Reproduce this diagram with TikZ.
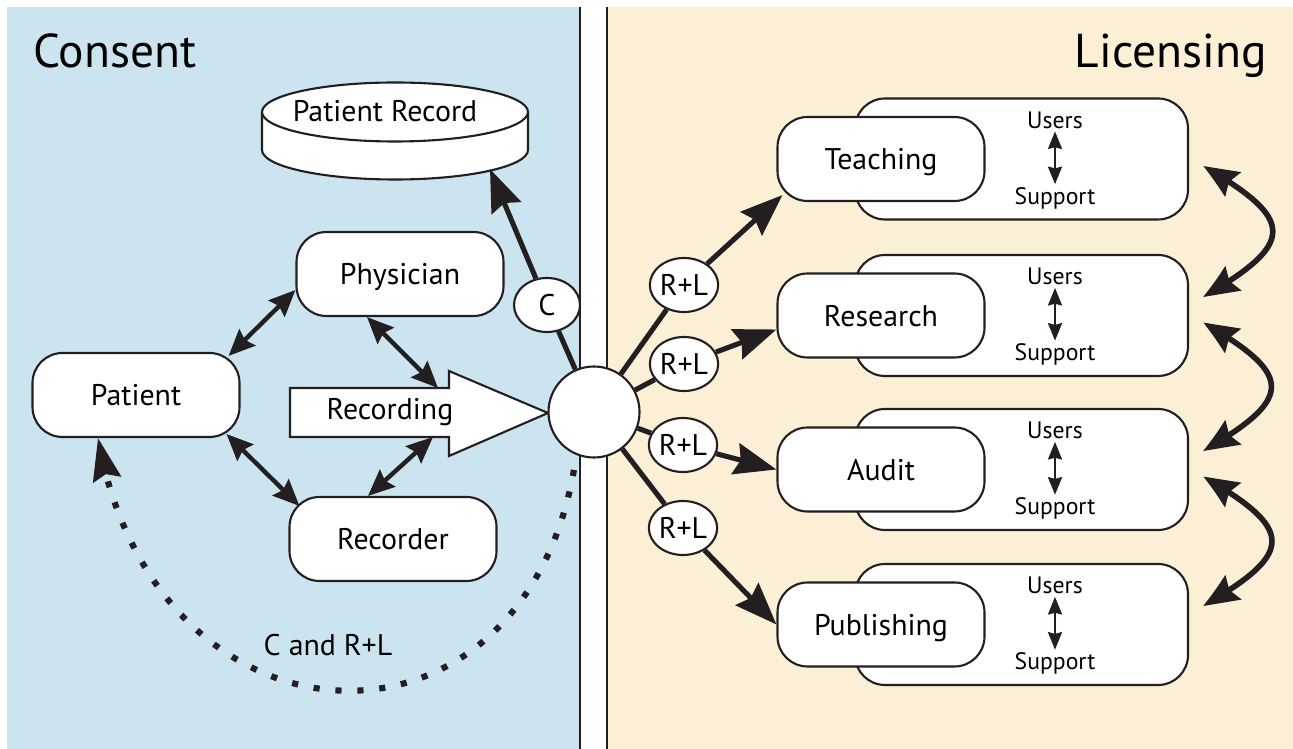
\documentclass[tikz,border=0pt]{standalone}
\usepackage{fontspec}
\setmainfont{PT Sans}
\usetikzlibrary{arrows.meta,bending,shapes.geometric}
\definecolor{consentbg}{RGB}{204,228,240}
\definecolor{licensebg}{RGB}{251,240,214}
\definecolor{ink}{RGB}{35,31,32}
\tikzset{
  box/.style={draw=ink, fill=white, line width=1.2pt, rounded corners=0.6cm,
    minimum width=4.14cm, minimum height=1.68cm, text height=12.5pt, text depth=0pt,
    font=\fontsize{17}{20}\selectfont},
  stack/.style={draw=ink, fill=white, line width=1.2pt, rounded corners=0.6cm,
    minimum width=6.66cm, minimum height=2.42cm},
  tag/.style={ellipse, draw=ink, fill=white, line width=1.2pt, inner sep=0pt,
    minimum width=1.32cm, minimum height=1.08cm, font=\fontsize{17}{20}\selectfont},
  role/.style={font=\fontsize{13.5}{15}\selectfont, inner sep=1.5pt},
  head/.style={font=\fontsize{27}{30}\selectfont, inner sep=0pt},
  link/.style={draw=ink, line width=2.9pt, -{Stealth[length=24pt,width=18pt,inset=3pt]}},
  twoway/.style={draw=ink, line width=2.5pt,
    {Stealth[length=15pt,width=13pt,inset=2pt]}-{Stealth[length=15pt,width=13pt,inset=2pt]}},
  mutual/.style={draw=ink, line width=1.2pt,
    {Stealth[length=10pt,width=8pt,inset=1pt]}-{Stealth[length=10pt,width=8pt,inset=1pt]}},
  between/.style={draw=ink, line width=3.2pt,
    {Stealth[length=21pt,width=16pt,inset=3pt,bend]}-{Stealth[length=21pt,width=16pt,inset=3pt,bend]}},
  dotarc/.style={draw=ink, line width=3.5pt, dash pattern=on 3.5pt off 9pt,
    -{Stealth[length=24pt,width=16pt,inset=3pt]}},
}
\begin{document}
\begin{tikzpicture}
  \useasboundingbox (0,0) rectangle (25.86,14.98);
  % panels
  \fill[consentbg] (0.14,0) rectangle (11.6,14.84);
  \fill[licensebg] (12.14,0) rectangle (25.86,14.84);
  \draw[ink, line width=1.1pt] (11.6,0) -- (11.6,14.84);
  \draw[ink, line width=1.1pt] (12.14,0) -- (12.14,14.84);
  \node[head, anchor=base west] (consent) at (0.66,13.62) {Consent};
  \node[head, anchor=base east] (licensing) at (25.34,13.62) {Licensing};

  % consent side
  \draw[ink, fill=white, line width=1.2pt] (5.24,12.74) -- (5.24,11.98)
    arc[start angle=180, end angle=360, x radius=2.66cm, y radius=0.59cm] -- (10.56,12.74);
  \draw[ink, fill=white, line width=1.2pt] (7.9,12.74) ellipse [x radius=2.66cm, y radius=0.59cm];
  \node[font=\fontsize{17}{20}\selectfont] (record) at (7.7,12.76) {Patient Record};
  \coordinate (recin) at (9.8,11.6);

  \node[box] (patient) at (2.72,7.08) {Patient};
  \node[box] (physician) at (8.0,9.5) {Physician};
  \node[box] (recorder) at (7.86,4.2) {Recorder};

  \draw[ink, fill=white, line width=1.2pt] (5.8,7.22) -- (8.98,7.22) -- (8.98,7.56) -- (10.96,6.72)
    -- (8.98,5.86) -- (8.98,6.24) -- (5.8,6.24) -- cycle;
  \node[font=\fontsize{17}{20}\selectfont] (recording) at (7.8,6.74) {Recording};
  \coordinate (rectop) at (8.76,7.22);
  \coordinate (recbot) at (8.66,6.24);

  \node[circle, draw=ink, fill=white, line width=1.2pt, minimum size=1.82cm] (hub) at (11.88,6.74) {};
  \node[tag] (c) at (10.94,8.88) {C};

  \draw[twoway] ([xshift=-0.24cm,yshift=-0.08cm]patient.north east) -- ([yshift=-0.32cm]physician.west);
  \draw[twoway] ([xshift=-0.66cm]physician.south) -- (rectop);
  \draw[twoway] ([xshift=-0.28cm,yshift=0.08cm]patient.south east) -- ([xshift=0.22cm,yshift=-0.2cm]recorder.north west);
  \draw[twoway] (recbot) -- ([xshift=-0.5cm]recorder.north);

  \draw[link] (hub) -- (c) -- (recin);
  \draw[dotarc, shorten <=0.3cm] (hub.-112) to[out=-100, in=-80, looseness=1.75] ([xshift=-0.76cm]patient.south);
  \node[font=\fontsize{17}{20}\selectfont] (cnote) at (6.56,2.08) {C and R+L};

  % licensing side
  \node[stack] (teachgrp) at (20.43,11.8) {};
  \node[box] (teaching) at (17.62,11.8) {Teaching};
  \node[role] (users1) at (21.1,12.58) {Users};
  \node[role] (support1) at (21.1,11.02) {Support};
  \draw[mutual] (users1) -- (support1);

  \node[stack] (resgrp) at (20.43,8.67) {};
  \node[box] (research) at (17.62,8.67) {Research};
  \node[role] (users2) at (21.1,9.45) {Users};
  \node[role] (support2) at (21.1,7.89) {Support};
  \draw[mutual] (users2) -- (support2);

  \node[stack] (auditgrp) at (20.43,5.59) {};
  \node[box] (audit) at (17.62,5.59) {Audit};
  \node[role] (users3) at (21.1,6.37) {Users};
  \node[role] (support3) at (21.1,4.81) {Support};
  \draw[mutual] (users3) -- (support3);

  \node[stack] (pubgrp) at (20.43,2.49) {};
  \node[box] (publishing) at (17.62,2.49) {Publishing};
  \node[role] (users4) at (21.1,3.27) {Users};
  \node[role] (support4) at (21.1,1.71) {Support};
  \draw[mutual] (users4) -- (support4);

  \node[tag] (rl1) at (13.68,9.28) {R+L};
  \node[tag] (rl2) at (13.68,7.70) {R+L};
  \node[tag] (rl3) at (13.66,6.08) {R+L};
  \node[tag] (rl4) at (13.66,4.42) {R+L};
  \draw[link] (hub) -- (rl1) -- ([xshift=0.12cm,yshift=0.14cm]teaching.south west);
  \draw[link] (hub) -- (rl2) -- ([yshift=-0.28cm]research.west);
  \draw[link] (hub) -- (rl3) -- (audit.west);
  \draw[link] (hub) -- (rl4) -- (publishing.west);

  \draw[between] ([xshift=0.28cm,yshift=-0.14cm]teachgrp.east) to[out=-30, in=30, looseness=2.1] ([xshift=0.28cm,yshift=0.37cm]resgrp.east);
  \draw[between] ([xshift=0.28cm,yshift=-0.14cm]resgrp.east) to[out=-30, in=30, looseness=2.1] ([xshift=0.28cm,yshift=0.37cm]auditgrp.east);
  \draw[between] ([xshift=0.28cm,yshift=-0.14cm]auditgrp.east) to[out=-30, in=30, looseness=2.1] ([xshift=0.28cm,yshift=0.37cm]pubgrp.east);
\end{tikzpicture}
\end{document}
